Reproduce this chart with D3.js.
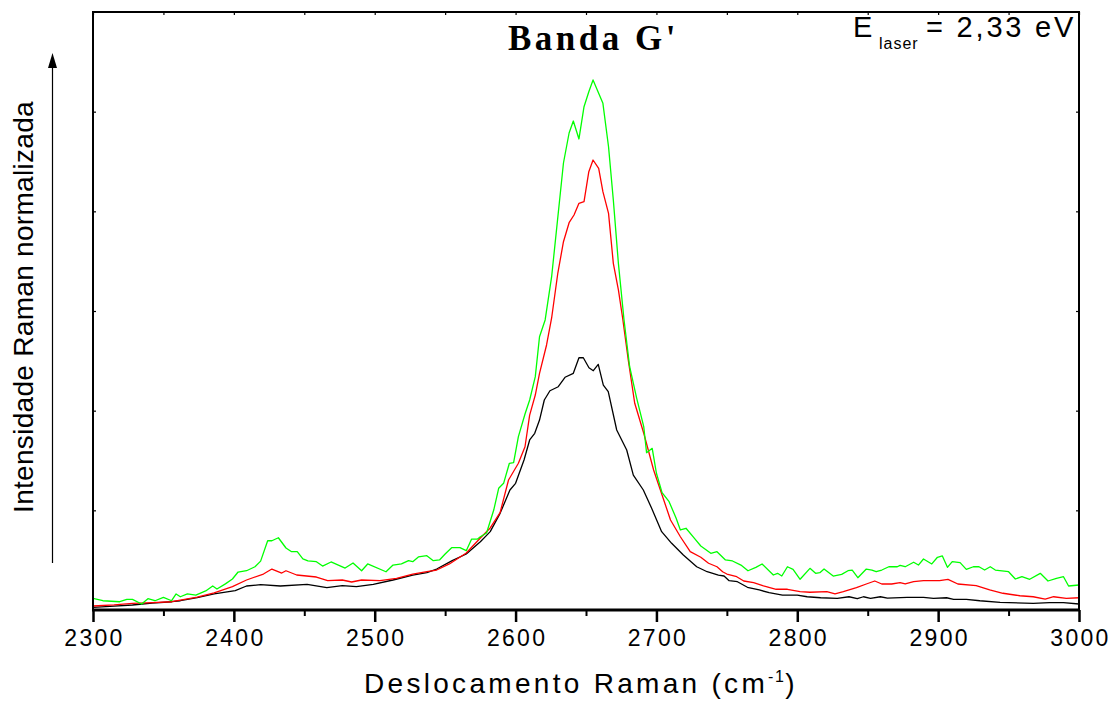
<!DOCTYPE html>
<html>
<head>
<meta charset="utf-8">
<script src="https://cdn.jsdelivr.net/npm/d3@7"></script>
<style>
  body { margin: 0; background: #fff; }
  svg { display: block; }
</style>
</head>
<body>
<div id="chart"></div>
<script>

// Banda G' spectra: [Raman shift (cm-1), normalized intensity]
var greenData = [
  [2300, 0.117], [2307, 0.093], [2319, 0.083], [2324, 0.107], [2328, 0.107], [2334.5, 0.060],
  [2339, 0.113], [2344, 0.093], [2350, 0.127], [2355.8, 0.093], [2359, 0.161], [2362, 0.133],
  [2367, 0.161], [2373, 0.150], [2380, 0.191], [2385, 0.241], [2388, 0.211], [2394, 0.262],
  [2399, 0.311], [2403, 0.381], [2409, 0.394], [2415, 0.434], [2419, 0.490], [2424, 0.695],
  [2427, 0.695], [2431.6, 0.725], [2437, 0.622], [2441, 0.585], [2445, 0.585], [2449, 0.512],
  [2452.6, 0.492], [2458.6, 0.485], [2463, 0.441], [2469, 0.482], [2479, 0.421], [2484.6, 0.472],
  [2490.7, 0.394], [2495, 0.462], [2508, 0.384], [2513, 0.451], [2519, 0.462], [2524, 0.495],
  [2527, 0.485], [2531, 0.532], [2537, 0.545], [2541.6, 0.495], [2546, 0.502], [2550, 0.562],
  [2554.6, 0.625], [2560.5, 0.625], [2565, 0.595], [2568.8, 0.712], [2573, 0.712], [2575, 0.735],
  [2579.4, 0.773], [2584.5, 1.003], [2588, 1.221], [2591.5, 1.271], [2595.6, 1.472], [2598.6, 1.478],
  [2602, 1.739], [2606.7, 1.967], [2610, 2.107], [2614, 2.341], [2617, 2.742], [2621, 2.910],
  [2625.6, 3.344], [2634, 4.485], [2638, 4.786], [2641, 4.906], [2645, 4.726], [2648.6, 5.050],
  [2652, 5.200], [2655, 5.318], [2662, 5.084], [2666, 4.648], [2669.4, 4.114], [2673, 3.478],
  [2677, 2.910], [2681, 2.441], [2686, 2.124], [2691, 1.839], [2693, 1.578], [2697, 1.622],
  [2700, 1.372], [2704, 1.177], [2709, 1.087], [2714, 0.920], [2717, 0.803], [2721, 0.820],
  [2727, 0.719], [2731.5, 0.642], [2738.6, 0.569], [2743, 0.585], [2749, 0.502], [2754, 0.492],
  [2760, 0.451], [2765, 0.394], [2770.6, 0.428], [2775, 0.462], [2783, 0.351], [2786, 0.368],
  [2789, 0.341], [2793, 0.434], [2797, 0.408], [2802, 0.308], [2809, 0.418], [2813, 0.368],
  [2816, 0.374], [2819, 0.411], [2825.5, 0.341], [2831.5, 0.358], [2836, 0.394], [2839, 0.401],
  [2843, 0.324], [2849, 0.411], [2853, 0.401], [2856, 0.384], [2860, 0.401], [2865, 0.434],
  [2871, 0.434], [2873, 0.448], [2876.6, 0.434], [2882.6, 0.479], [2886, 0.451], [2889.6, 0.512],
  [2895.5, 0.462], [2899.5, 0.529], [2903, 0.542], [2906.6, 0.428], [2910, 0.485], [2915.6, 0.475],
  [2920, 0.408], [2925, 0.434], [2929, 0.434], [2933, 0.401], [2937, 0.434], [2940.6, 0.401],
  [2950, 0.384], [2954.8, 0.311], [2959.5, 0.334], [2965, 0.308], [2972.5, 0.368], [2978, 0.291],
  [2984, 0.318], [2989, 0.334], [2992.6, 0.241], [3000, 0.251]
];

var redData = [
  [2300, 0.040], [2315, 0.052], [2328, 0.067], [2342, 0.075], [2356, 0.083], [2362, 0.100],
  [2374, 0.130], [2386, 0.171], [2399, 0.234], [2409, 0.301], [2421, 0.361], [2427, 0.411],
  [2434, 0.371], [2437, 0.394], [2444.6, 0.351], [2458.6, 0.331], [2466.6, 0.294], [2477, 0.301],
  [2483.6, 0.281], [2490.7, 0.301], [2503.7, 0.294], [2515.5, 0.318], [2527, 0.361], [2537, 0.384],
  [2544, 0.401], [2553, 0.462], [2565, 0.572], [2575, 0.722], [2582, 0.823], [2589, 0.976],
  [2595, 1.304], [2602, 1.472], [2606.7, 1.638], [2610, 1.956], [2614, 2.157], [2617, 2.375],
  [2622, 2.659], [2625.6, 2.930], [2630, 3.381], [2634, 3.695], [2638, 3.886], [2641.5, 3.963],
  [2645, 4.080], [2648.6, 4.097], [2652, 4.398], [2655, 4.515], [2659, 4.432], [2662, 4.197],
  [2666, 3.980], [2669.4, 3.478], [2673, 3.211], [2676, 2.930], [2680, 2.508], [2684.6, 2.074],
  [2691, 1.773], [2698, 1.405], [2704, 1.154], [2710, 0.903], [2717, 0.735], [2724, 0.585],
  [2731.5, 0.529], [2737, 0.469], [2743, 0.434], [2747, 0.384], [2750, 0.361], [2757, 0.334],
  [2762, 0.291], [2769, 0.274], [2776, 0.241], [2785, 0.208], [2793, 0.208], [2802, 0.184],
  [2809, 0.178], [2821, 0.184], [2826.8, 0.161], [2832.7, 0.184], [2842, 0.224], [2849, 0.261],
  [2855, 0.291], [2860, 0.261], [2867, 0.261], [2873, 0.274], [2876.6, 0.261], [2882.6, 0.284],
  [2889.6, 0.294], [2901, 0.294], [2907, 0.308], [2914, 0.261], [2927, 0.244], [2936.6, 0.201],
  [2946, 0.168], [2958, 0.143], [2967.5, 0.133], [2976, 0.110], [2982, 0.133], [2991, 0.117],
  [3000, 0.123]
];

var blackData = [
  [2300, 0.027], [2315, 0.038], [2328, 0.050], [2342, 0.068], [2356, 0.083], [2362, 0.093],
  [2374, 0.125], [2386, 0.161], [2401, 0.194], [2409, 0.241], [2419, 0.254], [2433, 0.241],
  [2452, 0.258], [2466, 0.224], [2477, 0.244], [2487, 0.234], [2499, 0.258], [2513, 0.301],
  [2527, 0.351], [2537, 0.374], [2544, 0.411], [2555, 0.495], [2565, 0.562], [2575, 0.685],
  [2582, 0.786], [2589, 0.970], [2596, 1.204], [2600, 1.271], [2606, 1.505], [2610, 1.706],
  [2613.6, 1.773], [2617, 1.906], [2620.4, 2.107], [2624.4, 2.200], [2630.3, 2.240], [2635.1, 2.335],
  [2641, 2.375], [2645, 2.531], [2648.1, 2.531], [2652.1, 2.431], [2655.2, 2.401], [2658.7, 2.465],
  [2662.3, 2.257], [2665.8, 2.190], [2671.8, 1.806], [2678.9, 1.605], [2683.6, 1.354], [2690.7, 1.204],
  [2696.6, 1.020], [2703.7, 0.786], [2710.8, 0.669], [2719.1, 0.552], [2728.6, 0.434], [2736, 0.384],
  [2744, 0.351], [2748, 0.341], [2751.6, 0.294], [2757.5, 0.284], [2764.6, 0.228], [2773, 0.201],
  [2780, 0.174], [2789.5, 0.150], [2800, 0.150], [2807, 0.133], [2816.6, 0.123], [2828.4, 0.117],
  [2836.7, 0.133], [2842.6, 0.113], [2847, 0.133], [2852, 0.117], [2859, 0.133], [2864, 0.120],
  [2878, 0.127], [2889.6, 0.127], [2896.7, 0.117], [2906, 0.123], [2911, 0.107], [2920, 0.107],
  [2929.6, 0.093], [2944, 0.077], [2967.5, 0.067], [2979, 0.073], [2989, 0.073], [3000, 0.060]
];

var xTickValues = [2300, 2400, 2500, 2600, 2700, 2800, 2900, 3000];
var xMinorValues = [2350, 2450, 2550, 2650, 2750, 2850, 2950];
var yTickValues = [1, 2, 3, 4, 5];

chart('#chart');

function chart(id) {
  var W = 1111, H = 702;
  var margin = { top: 12, right: 32, bottom: 92, left: 93 };
  var width = W - margin.left - margin.right;
  var height = H - margin.top - margin.bottom;

  var svg = d3.select(id).append("svg")
    .attr("width", W)
    .attr("height", H);

  var x = d3.scaleLinear().domain([2300, 3000]).range([0, width]);
  var y = d3.scaleLinear().domain([0, 6]).range([height, 0]);

  svg.append("defs").append("clipPath").attr("id", "plot-clip")
    .append("rect").attr("width", width).attr("height", height);

  var g = svg.append("g")
    .attr("transform", "translate(" + margin.left + "," + margin.top + ")");

  // spectra
  var line = d3.line()
    .x(function(d) { return x(d[0]); })
    .y(function(d) { return y(d[1]); });

  var lines = g.append("g").attr("clip-path", "url(#plot-clip)");
  [[blackData, "#000000"], [redData, "#ff0000"], [greenData, "#00ff00"]].forEach(function(s) {
    lines.append("path")
      .datum(s[0])
      .attr("fill", "none")
      .attr("stroke", s[1])
      .attr("stroke-width", 1.3)
      .attr("stroke-linejoin", "round")
      .attr("d", line);
  });

  // bottom axis: major ticks outside, with labels
  var bottom = g.append("g")
    .attr("transform", "translate(0," + height + ")")
    .call(d3.axisBottom(x).tickValues(xTickValues).tickSize(12).tickPadding(8).tickFormat(d3.format("d")));
  bottom.select(".domain").remove();
  bottom.selectAll(".tick line").attr("stroke-width", 2.5);
  bottom.selectAll(".tick text")
    .attr("font-family", "Liberation Sans, Arial, sans-serif")
    .attr("font-size", 23)
    .attr("letter-spacing", "2.3px")
    .attr("fill", "#000")
    .attr("dx", "1px");

  var bottomMinor = g.append("g")
    .attr("transform", "translate(0," + height + ")")
    .call(d3.axisBottom(x).tickValues(xMinorValues).tickSize(6).tickFormat(""));
  bottomMinor.select(".domain").remove();
  bottomMinor.selectAll(".tick line").attr("stroke-width", 2);

  // top axis: small inward ticks
  var top = g.append("g")
    .call(d3.axisBottom(x).tickValues(xTickValues.concat(xMinorValues)).tickSize(3).tickFormat(""));
  top.select(".domain").remove();
  top.selectAll(".tick line").attr("stroke-width", 1.2);

  // left and right axes: small inward ticks, no labels
  var left = g.append("g")
    .call(d3.axisRight(y).tickValues(yTickValues).tickSize(3).tickFormat(""));
  left.select(".domain").remove();
  left.selectAll(".tick line").attr("stroke-width", 1.2);

  var right = g.append("g")
    .attr("transform", "translate(" + width + ",0)")
    .call(d3.axisLeft(y).tickValues(yTickValues).tickSize(3).tickFormat(""));
  right.select(".domain").remove();
  right.selectAll(".tick line").attr("stroke-width", 1.2);

  // frame
  g.append("rect")
    .attr("width", width).attr("height", height)
    .attr("fill", "none")
    .attr("stroke", "#000")
    .attr("stroke-width", 2);
  g.append("line")
    .attr("x1", -1).attr("x2", width + 1)
    .attr("y1", height).attr("y2", height)
    .attr("stroke", "#000").attr("stroke-width", 3);

  // x label
  var xl = svg.append("text")
    .attr("x", 364).attr("y", 693)
    .attr("font-family", "Liberation Sans, Arial, sans-serif")
    .attr("font-size", 28)
    .attr("letter-spacing", "3.3px")
    .attr("fill", "#000");
  xl.append("tspan").text("Deslocamento Raman (cm");
  xl.append("tspan").attr("font-size", 16).attr("dy", -11).attr("letter-spacing", "1.5px").text("-1");
  xl.append("tspan").attr("dy", 11).text(")");

  // y label with arrow
  svg.append("text")
    .attr("transform", "translate(33,307) rotate(-90)")
    .attr("text-anchor", "middle")
    .attr("font-family", "Liberation Sans, Arial, sans-serif")
    .attr("font-size", 28)
    .attr("letter-spacing", "0.3px")
    .attr("fill", "#000")
    .text("Intensidade Raman normalizada");

  svg.append("line")
    .attr("x1", 52.5).attr("x2", 52.5)
    .attr("y1", 563).attr("y2", 66)
    .attr("stroke", "#000").attr("stroke-width", 1.2);
  svg.append("path")
    .attr("d", "M52.5,53 L48,68 L57,68 Z")
    .attr("fill", "#000");

  // title
  svg.append("text")
    .attr("x", 508).attr("y", 50)
    .attr("font-family", "Liberation Serif, Times New Roman, serif")
    .attr("font-weight", "bold")
    .attr("font-size", 35)
    .attr("letter-spacing", "3.5px")
    .attr("fill", "#000")
    .text("Banda G'");

  // laser energy
  var lt = svg.append("g")
    .attr("font-family", "Liberation Sans, Arial, sans-serif")
    .attr("fill", "#000");
  lt.append("text").attr("x", 853).attr("y", 37).attr("font-size", 29).text("E");
  lt.append("text").attr("x", 879).attr("y", 49).attr("font-size", 16)
    .attr("letter-spacing", "1px").text("laser");
  lt.append("text").attr("x", 926).attr("y", 37).attr("font-size", 29)
    .attr("letter-spacing", "2.8px").text("= 2,33 eV");
}

</script>
</body>
</html>
